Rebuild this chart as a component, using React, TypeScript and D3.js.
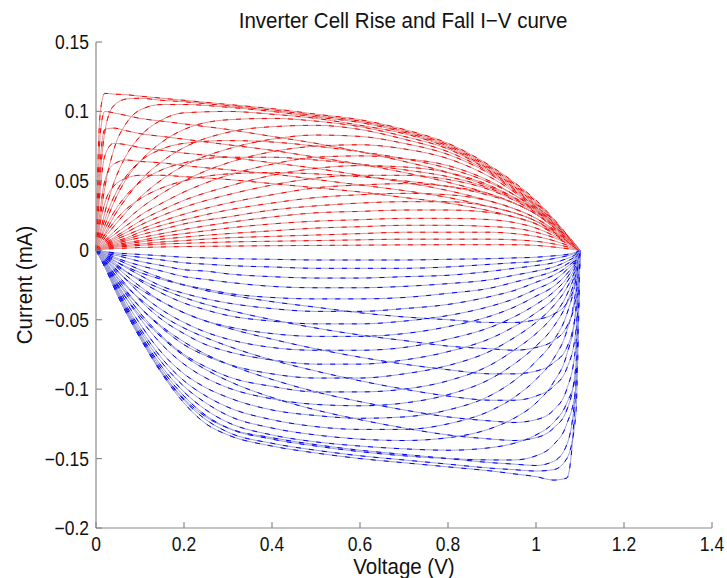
import React from 'react';
import * as d3 from 'd3';

// output voltage samples (V) for the rising transitions
const riseVoltage = [0, 0.005, 0.01, 0.02, 0.04, 0.07, 0.1, 0.15, 0.2, 0.3, 0.4, 0.5, 0.6, 0.7, 0.8, 0.9, 0.95, 1.0, 1.05, 1.1];

// current (mA) of each rise curve at riseVoltage
const riseCurves = [
  [0, 0.07, 0.1, 0.113, 0.1125, 0.112, 0.111, 0.1095, 0.108, 0.105, 0.102, 0.098, 0.094, 0.087, 0.077, 0.06, 0.049, 0.036, 0.019, 0],
  [0, 0.03, 0.055, 0.085, 0.104, 0.109, 0.1095, 0.108, 0.107, 0.104, 0.101, 0.097, 0.093, 0.086, 0.076, 0.059, 0.048, 0.035, 0.018, 0],
  [0, 0.012, 0.024, 0.045, 0.072, 0.092, 0.101, 0.105, 0.105, 0.103, 0.1, 0.096, 0.092, 0.085, 0.075, 0.058, 0.047, 0.034, 0.018, 0],
  [0, 0.007, 0.014, 0.027, 0.048, 0.069, 0.082, 0.094, 0.099, 0.1, 0.098, 0.095, 0.09, 0.084, 0.074, 0.057, 0.046, 0.033, 0.017, 0],
  [0, 0.005, 0.009, 0.018, 0.034, 0.052, 0.064, 0.078, 0.087, 0.094, 0.095, 0.093, 0.089, 0.082, 0.073, 0.056, 0.045, 0.032, 0.017, 0],
  [0, 0.003, 0.006, 0.012, 0.024, 0.038, 0.05, 0.064, 0.074, 0.085, 0.089, 0.09, 0.087, 0.08, 0.071, 0.055, 0.044, 0.031, 0.016, 0],
  [0, 0.002, 0.004, 0.009, 0.017, 0.028, 0.038, 0.051, 0.061, 0.073, 0.08, 0.083, 0.082, 0.077, 0.069, 0.054, 0.043, 0.031, 0.016, 0],
  [0, 0.05, 0.085, 0.1, 0.099, 0.097, 0.095, 0.093, 0.091, 0.087, 0.082, 0.077, 0.071, 0.064, 0.056, 0.045, 0.038, 0.029, 0.016, 0],
  [0, 0.035, 0.065, 0.087, 0.088, 0.086, 0.084, 0.082, 0.08, 0.076, 0.072, 0.067, 0.062, 0.056, 0.049, 0.04, 0.034, 0.026, 0.014, 0],
  [0, 0.025, 0.045, 0.068, 0.077, 0.076, 0.074, 0.072, 0.07, 0.067, 0.063, 0.059, 0.054, 0.049, 0.043, 0.035, 0.03, 0.023, 0.013, 0],
  [0, 0.016, 0.03, 0.05, 0.062, 0.065, 0.064, 0.063, 0.061, 0.058, 0.055, 0.051, 0.047, 0.043, 0.038, 0.031, 0.027, 0.021, 0.012, 0],
  [0, 0.01, 0.02, 0.034, 0.046, 0.052, 0.054, 0.054, 0.053, 0.051, 0.048, 0.045, 0.042, 0.038, 0.034, 0.028, 0.024, 0.019, 0.011, 0],
  [0, 0.002, 0.004, 0.007, 0.013, 0.022, 0.03, 0.041, 0.05, 0.063, 0.071, 0.075, 0.076, 0.073, 0.066, 0.052, 0.042, 0.03, 0.016, 0],
  [0, 0.0015, 0.003, 0.006, 0.011, 0.018, 0.025, 0.034, 0.042, 0.054, 0.062, 0.067, 0.068, 0.066, 0.061, 0.049, 0.04, 0.029, 0.015, 0],
  [0, 0.001, 0.0025, 0.005, 0.009, 0.015, 0.021, 0.029, 0.036, 0.046, 0.054, 0.059, 0.061, 0.06, 0.056, 0.046, 0.038, 0.028, 0.015, 0],
  [0, 0.001, 0.002, 0.004, 0.008, 0.013, 0.018, 0.025, 0.031, 0.04, 0.047, 0.052, 0.054, 0.054, 0.051, 0.043, 0.036, 0.027, 0.014, 0],
  [0, 0.001, 0.002, 0.0035, 0.007, 0.011, 0.015, 0.021, 0.026, 0.034, 0.04, 0.045, 0.047, 0.048, 0.046, 0.04, 0.034, 0.026, 0.014, 0],
  [0, 0.001, 0.0015, 0.003, 0.006, 0.009, 0.013, 0.018, 0.022, 0.029, 0.034, 0.038, 0.04, 0.041, 0.04, 0.035, 0.03, 0.023, 0.012, 0],
  [0, 0.0008, 0.0012, 0.0025, 0.005, 0.008, 0.011, 0.015, 0.019, 0.024, 0.029, 0.032, 0.034, 0.035, 0.035, 0.031, 0.027, 0.021, 0.011, 0],
  [0, 0.0006, 0.001, 0.002, 0.004, 0.007, 0.009, 0.012, 0.015, 0.02, 0.024, 0.027, 0.028, 0.029, 0.029, 0.027, 0.024, 0.019, 0.01, 0],
  [0, 0.0005, 0.001, 0.0018, 0.0035, 0.0055, 0.007, 0.01, 0.012, 0.016, 0.019, 0.021, 0.022, 0.023, 0.023, 0.022, 0.02, 0.016, 0.009, 0],
  [0, 0.0005, 0.0008, 0.0015, 0.003, 0.0045, 0.006, 0.008, 0.0095, 0.012, 0.014, 0.016, 0.017, 0.018, 0.018, 0.017, 0.016, 0.013, 0.008, 0],
  [0, 0.0004, 0.0007, 0.0012, 0.0025, 0.0035, 0.0045, 0.006, 0.007, 0.009, 0.01, 0.011, 0.012, 0.013, 0.013, 0.013, 0.012, 0.01, 0.006, 0],
  [0, 0.0004, 0.0006, 0.001, 0.002, 0.0028, 0.0035, 0.0045, 0.005, 0.006, 0.0065, 0.007, 0.0075, 0.008, 0.008, 0.008, 0.0075, 0.0065, 0.004, 0],
  [0, 0.0003, 0.0005, 0.0008, 0.0012, 0.0016, 0.002, 0.0024, 0.0027, 0.003, 0.0033, 0.0035, 0.0037, 0.0039, 0.004, 0.004, 0.004, 0.0035, 0.002, 0],
  [0, 0.006, 0.012, 0.022, 0.038, 0.054, 0.064, 0.073, 0.077, 0.079, 0.078, 0.075, 0.071, 0.066, 0.059, 0.048, 0.04, 0.03, 0.016, 0],
  [0, 0.004, 0.008, 0.015, 0.027, 0.04, 0.049, 0.058, 0.063, 0.067, 0.067, 0.065, 0.062, 0.058, 0.053, 0.044, 0.037, 0.028, 0.015, 0],
  [0, 0.003, 0.006, 0.011, 0.02, 0.03, 0.037, 0.045, 0.05, 0.055, 0.056, 0.055, 0.053, 0.05, 0.046, 0.039, 0.034, 0.026, 0.014, 0],
];

// output voltage samples (V) for the falling transitions
const fallVoltage = [0, 0.02, 0.05, 0.1, 0.15, 0.2, 0.25, 0.3, 0.4, 0.5, 0.6, 0.7, 0.8, 0.9, 0.95, 1.0, 1.04, 1.07, 1.09, 1.1];

// current (mA) of each fall curve at fallVoltage
const fallCurves = [
  [0, -0.012, -0.033, -0.063, -0.089, -0.11, -0.125, -0.133, -0.141, -0.146, -0.15, -0.153, -0.156, -0.159, -0.161, -0.163, -0.1655, -0.164, -0.1, 0],
  [0, -0.012, -0.032, -0.062, -0.088, -0.108, -0.122, -0.131, -0.139, -0.144, -0.148, -0.151, -0.154, -0.157, -0.158, -0.159, -0.158, -0.15, -0.12, 0],
  [0, -0.011, -0.031, -0.061, -0.086, -0.105, -0.119, -0.128, -0.136, -0.141, -0.145, -0.148, -0.15, -0.151, -0.151, -0.148, -0.14, -0.125, -0.1, 0],
  [0, -0.011, -0.031, -0.06, -0.084, -0.102, -0.115, -0.124, -0.133, -0.138, -0.141, -0.143, -0.144, -0.142, -0.139, -0.133, -0.124, -0.11, -0.09, 0],
  [0, -0.01, -0.03, -0.058, -0.081, -0.098, -0.11, -0.119, -0.128, -0.133, -0.136, -0.137, -0.135, -0.128, -0.121, -0.11, -0.095, -0.075, -0.045, 0],
  [0, -0.01, -0.029, -0.056, -0.078, -0.094, -0.105, -0.113, -0.122, -0.127, -0.129, -0.129, -0.125, -0.115, -0.106, -0.093, -0.078, -0.058, -0.03, 0],
  [0, -0.009, -0.027, -0.053, -0.074, -0.089, -0.099, -0.106, -0.115, -0.119, -0.121, -0.12, -0.115, -0.104, -0.094, -0.08, -0.065, -0.046, -0.022, 0],
  [0, -0.009, -0.025, -0.049, -0.068, -0.082, -0.092, -0.099, -0.107, -0.111, -0.112, -0.11, -0.104, -0.092, -0.082, -0.069, -0.055, -0.038, -0.018, 0],
  [0, -0.008, -0.023, -0.045, -0.062, -0.075, -0.084, -0.091, -0.098, -0.102, -0.102, -0.1, -0.094, -0.082, -0.072, -0.06, -0.047, -0.032, -0.015, 0],
  [0, -0.007, -0.021, -0.041, -0.056, -0.068, -0.076, -0.082, -0.089, -0.092, -0.092, -0.089, -0.083, -0.072, -0.063, -0.052, -0.04, -0.027, -0.013, 0],
  [0, -0.006, -0.018, -0.036, -0.05, -0.06, -0.068, -0.073, -0.079, -0.082, -0.082, -0.079, -0.073, -0.063, -0.055, -0.045, -0.035, -0.023, -0.011, 0],
  [0, -0.005, -0.015, -0.031, -0.043, -0.052, -0.059, -0.064, -0.07, -0.072, -0.072, -0.07, -0.064, -0.055, -0.048, -0.039, -0.03, -0.02, -0.009, 0],
  [0, -0.004, -0.013, -0.026, -0.037, -0.045, -0.051, -0.055, -0.06, -0.062, -0.062, -0.06, -0.055, -0.047, -0.041, -0.033, -0.026, -0.017, -0.008, 0],
  [0, -0.004, -0.011, -0.022, -0.031, -0.038, -0.043, -0.047, -0.051, -0.053, -0.053, -0.051, -0.047, -0.04, -0.035, -0.028, -0.022, -0.014, -0.007, 0],
  [0, -0.003, -0.009, -0.018, -0.026, -0.031, -0.035, -0.038, -0.042, -0.044, -0.044, -0.042, -0.039, -0.033, -0.029, -0.023, -0.018, -0.012, -0.006, 0],
  [0, -0.003, -0.007, -0.014, -0.02, -0.025, -0.028, -0.031, -0.034, -0.035, -0.035, -0.034, -0.031, -0.027, -0.023, -0.019, -0.015, -0.01, -0.005, 0],
  [0, -0.002, -0.006, -0.011, -0.015, -0.019, -0.021, -0.023, -0.026, -0.027, -0.027, -0.026, -0.024, -0.021, -0.018, -0.015, -0.012, -0.008, -0.004, 0],
  [0, -0.002, -0.004, -0.008, -0.011, -0.014, -0.015, -0.017, -0.019, -0.02, -0.02, -0.019, -0.018, -0.015, -0.013, -0.011, -0.009, -0.006, -0.003, 0],
  [0, -0.001, -0.003, -0.005, -0.007, -0.009, -0.01, -0.011, -0.012, -0.013, -0.013, -0.013, -0.012, -0.01, -0.009, -0.008, -0.006, -0.004, -0.002, 0],
  [0, -0.001, -0.002, -0.003, -0.004, -0.005, -0.0055, -0.006, -0.0065, -0.007, -0.007, -0.007, -0.0065, -0.006, -0.0055, -0.005, -0.004, -0.003, -0.0015, 0],
  [0, -0.008, -0.02, -0.035, -0.047, -0.056, -0.063, -0.069, -0.079, -0.087, -0.094, -0.1, -0.105, -0.108, -0.108, -0.105, -0.098, -0.085, -0.06, 0],
  [0, -0.006, -0.016, -0.028, -0.037, -0.045, -0.051, -0.056, -0.064, -0.071, -0.077, -0.082, -0.086, -0.089, -0.089, -0.087, -0.081, -0.07, -0.045, 0],
  [0, -0.005, -0.012, -0.021, -0.028, -0.034, -0.039, -0.043, -0.05, -0.056, -0.061, -0.065, -0.069, -0.071, -0.072, -0.07, -0.065, -0.055, -0.035, 0],
  [0, -0.01, -0.026, -0.047, -0.063, -0.076, -0.086, -0.094, -0.106, -0.115, -0.122, -0.128, -0.133, -0.136, -0.137, -0.135, -0.128, -0.115, -0.085, 0],
  [0, -0.009, -0.023, -0.041, -0.055, -0.066, -0.075, -0.082, -0.093, -0.102, -0.109, -0.115, -0.12, -0.123, -0.124, -0.122, -0.115, -0.1, -0.07, 0],
  [0, -0.012, -0.033, -0.063, -0.088, -0.107, -0.12, -0.128, -0.135, -0.14, -0.144, -0.147, -0.15, -0.153, -0.154, -0.155, -0.152, -0.14, -0.1, 0],
  [0, -0.004, -0.009, -0.016, -0.021, -0.025, -0.029, -0.032, -0.037, -0.041, -0.045, -0.048, -0.05, -0.052, -0.052, -0.05, -0.046, -0.038, -0.022, 0],
];

const xTicks = [0, 0.2, 0.4, 0.6, 0.8, 1, 1.2, 1.4];
const xTickLabels = ['0', '0.2', '0.4', '0.6', '0.8', '1', '1.2', '1.4'];
const yTicks = [0.15, 0.1, 0.05, 0, -0.05, -0.1, -0.15, -0.2];
const yTickLabels = ['0.15', '0.1', '0.05', '0', '\u22120.05', '\u22120.1', '\u22120.15', '\u22120.2'];

const W = 727;
const H = 578;
const font = "'Liberation Sans', Arial, Helvetica, sans-serif";

// text slightly stretched vertically, like the original export
const Label = ({ x, y, size, anchor = 'middle', rotate = 0, sy = 1.12, children }: any) => (
  <text
    transform={`translate(${x},${y}) rotate(${rotate}) scale(1,${sy})`}
    textAnchor={anchor}
    fontFamily={font}
    fontSize={size}
    fill="#111"
  >
    {children}
  </text>
);

export default function App() {
  const x = d3.scaleLinear().domain([0, 1.4]).range([96, 712]);
  const y = d3.scaleLinear().domain([-0.2, 0.15]).range([528, 42]);

  const pathFor = (volts: number[], amps: number[]) =>
    d3.line<number>()
      .x((_, i) => x(volts[i]))
      .y((d) => y(d))
      .curve(d3.curveMonotoneX)(amps) || '';

  const axisColor = '#8a8a8a';

  return (
    <svg width={W} height={H} style={{ position: 'absolute', left: 0, top: 0, background: '#fff' }}>
      {/* curves: pale base line with a brighter dashed pass on top */}
      <g fill="none" strokeWidth={1}>
        {riseCurves.map((c, i) => (
          <g key={'r' + i}>
            <path d={pathFor(riseVoltage, c)} stroke="#e09090" />
            <path d={pathFor(riseVoltage, c)} stroke="#f00" strokeDasharray="5 8" />
          </g>
        ))}
        {fallCurves.map((c, i) => (
          <g key={'f' + i}>
            <path d={pathFor(fallVoltage, c)} stroke="#9a9ed8" />
            <path d={pathFor(fallVoltage, c)} stroke="#00f" strokeDasharray="5 8" />
          </g>
        ))}
      </g>

      {/* axes */}
      <line x1={x(0)} x2={x(0)} y1={y(0.15)} y2={y(-0.2)} stroke={axisColor} strokeWidth={1.2} />
      <line x1={x(0)} x2={x(1.4)} y1={y(-0.2)} y2={y(-0.2)} stroke={axisColor} strokeWidth={1.2} />
      {xTicks.map((t, i) => (
        <g key={'xt' + i}>
          <line x1={x(t)} x2={x(t)} y1={y(-0.2)} y2={y(-0.2) - 6} stroke={axisColor} strokeWidth={1.2} />
          <Label x={x(t)} y={y(-0.2) + 23} size={17.5}>{xTickLabels[i]}</Label>
        </g>
      ))}
      {yTicks.map((t, i) => (
        <g key={'yt' + i}>
          <line x1={x(0)} x2={x(0) + 6} y1={y(t)} y2={y(t)} stroke={axisColor} strokeWidth={1.2} />
          <Label x={x(0) - 7} y={y(t) + 7} size={17.5} anchor="end">{yTickLabels[i]}</Label>
        </g>
      ))}

      <Label x={403} y={28} size={20.5} sy={1.08}>Inverter Cell Rise and Fall I{'\u2212'}V curve</Label>
      <Label x={404} y={574} size={20.5} sy={1.08}>Voltage (V)</Label>
      <Label x={32} y={285} size={20.5} sy={1.08} rotate={-90}>Current (mA)</Label>
    </svg>
  );
}
